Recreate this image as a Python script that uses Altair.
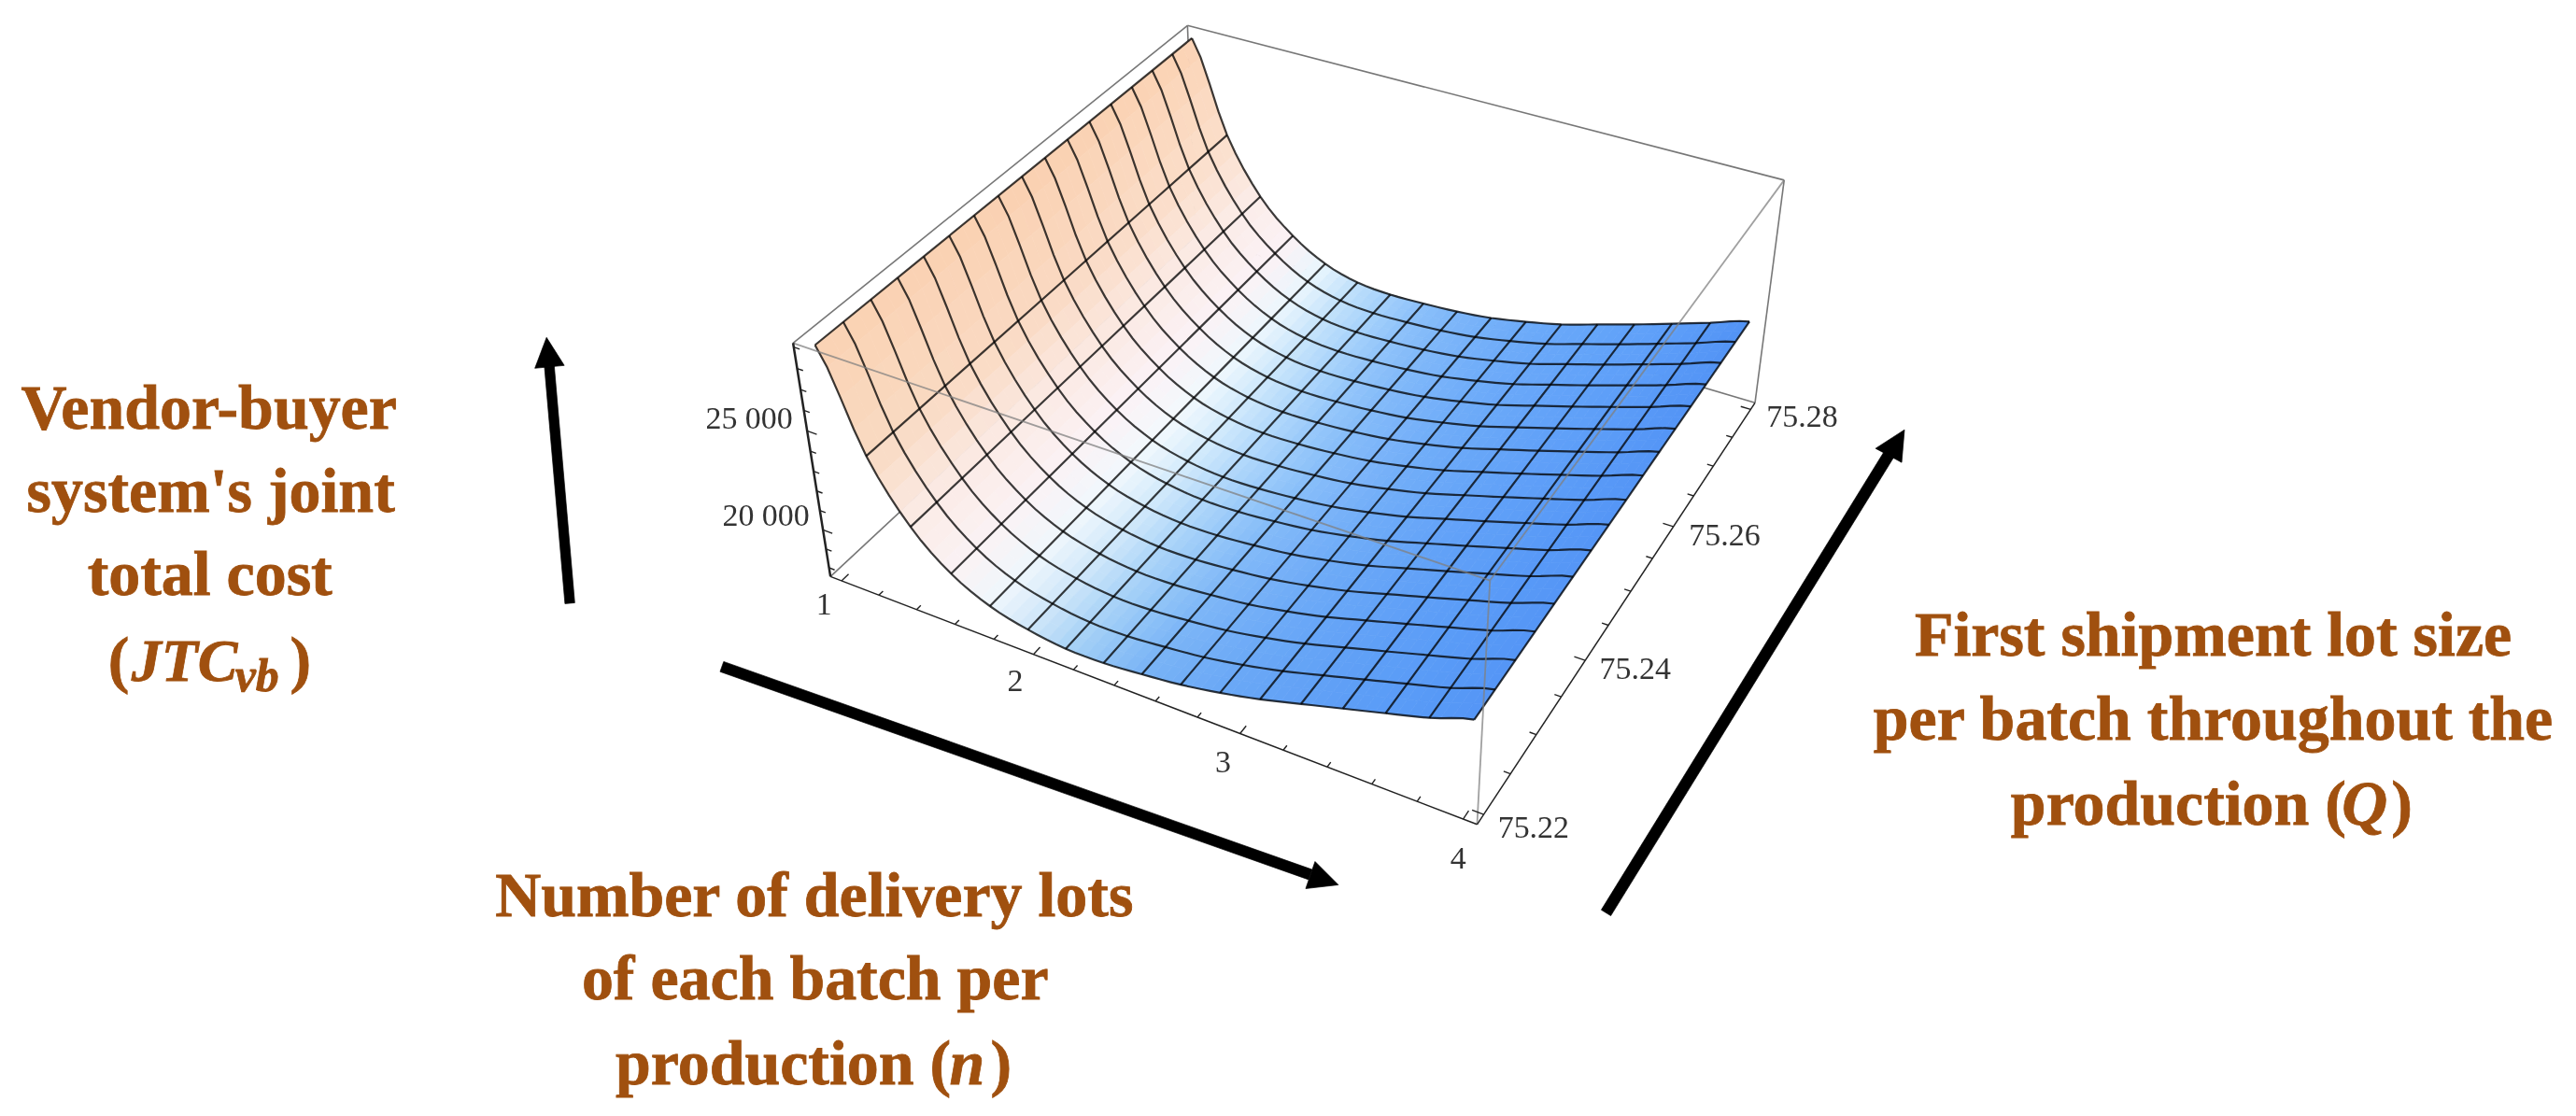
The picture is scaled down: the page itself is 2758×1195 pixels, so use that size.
import numpy as np
import altair as alt

# ---- values -----------------------------------------------------------------
N_MIN, N_MAX = 1.0, 4.0
Q_MIN, Q_MAX = 75.22, 75.28
MESH_CELLS = 16
# joint total cost at each mesh line of n, along the two edges Q=75.22 and Q=75.28
z_front = [28933, 24223, 21332, 19618, 18641, 18140, 17880, 17885, 18062, 18290, 18649, 19097, 19647, 20202, 20763, 21329, 22037]
z_back = [28932, 24242, 21348, 19665, 18608, 18088, 17949, 18000, 18110, 18317, 18674, 19097, 19671, 20247, 20859, 21487, 22121]
color_front = ["#FAD2B3","#F9DAC2","#FBECE8","#FAF2F4","#EEF6FC","#CFE6F9","#A9D3F6","#8EC2F6","#79B3F6","#71ADF6","#6AA8F6","#65A4F6","#61A1F6","#5D9EF6","#5A9CF7","#5799F6","#5596F6"]
color_mid = ["#FAD0B0","#FAD9C2","#FBEAE4","#FBF2F6","#F3F9FD","#D5ECFC","#B5DAFB","#9CCBFA","#88BEF9","#7DB5F9","#72AEF8","#6BA9F8","#65A4F8","#60A0F8","#5C9DF7","#5899F7","#5596F6"]
color_back = ["#FBD3B4","#FBDFCB","#FBEDEA","#FBF2F5","#E8F5FD","#BFE0FB","#A3D0FB","#8BC0FA","#7DB6F9","#74B0F9","#6DABF9","#68A7F9","#65A5F9","#61A2F9","#5E9FF9","#5899F7","#5293F5"]
z_tick_labels = ["25 000", "20 000"]
n_tick_labels = ["1", "2", "3", "4"]
q_tick_labels = ["75.22", "75.24", "75.26", "75.28"]

# ---- view box and camera ----------------------------------------------------
Z_LO, Z_HI = 17530.0, 29190.0
N_LO, N_HI = 0.94, 4.06
Q_LO, Q_HI = 75.2188, 75.2812
box3 = [(0,0,1),(0,1,1),(1,0,1),(1,1,1),(0,0,0),(1,0,0),(1,1,0)]
box2 = [(848,366),(1271,24),(1595,617),(1912,192),(889,615),(1582,883),(1879,428)]

A = []
for (X_,Y_,Z_),(x,y) in zip(box3,box2):
    x/=1000; y/=1000
    A.append([X_,Y_,Z_,1,0,0,0,0,-x*X_,-x*Y_,-x*Z_,-x])
    A.append([0,0,0,0,X_,Y_,Z_,1,-y*X_,-y*Y_,-y*Z_,-y])
P = np.linalg.svd(np.array(A,float))[2][-1].reshape(3,4)

def proj(n,Q,z):
    v = P@np.array([(n-N_LO)/(N_HI-N_LO),(Q-Q_LO)/(Q_HI-Q_LO),(z-Z_LO)/(Z_HI-Z_LO),1.0])
    return (float(v[0]/v[2]*1000), float(v[1]/v[2]*1000))

SUB = 4
def cr(vals,t):
    vals=np.asarray(vals,float); i=min(int(t),len(vals)-2); s=t-i
    p0=vals[max(i-1,0)];p1=vals[i];p2=vals[i+1];p3=vals[min(i+2,len(vals)-1)]
    return 0.5*((2*p1)+(-p0+p2)*s+(2*p0-5*p1+4*p2-p3)*s*s+(-p0+3*p1-3*p2+p3)*s**3)
def hexrgb(h): return np.array([int(h[i:i+2],16) for i in (1,3,5)],float)
rows=[[hexrgb(c) for c in r] for r in (color_front,color_mid,color_back)]
def col(t,f):
    i=min(int(t),MESH_CELLS-1); s=t-i
    g=f*2; k=min(int(g),1); r=g-k
    c=(rows[k][i]*(1-s)+rows[k][i+1]*s)*(1-r)+(rows[k+1][i]*(1-s)+rows[k+1][i+1]*s)*r
    return "#%02x%02x%02x"%tuple(int(round(v)) for v in c)
def surf(t,f):
    n=N_MIN+(N_MAX-N_MIN)*t/MESH_CELLS
    Q=Q_MIN+(Q_MAX-Q_MIN)*f
    z=cr(z_front,t)*(1-f)+cr(z_back,t)*f
    return proj(n,Q,z)

features=[]
def poly(pts,c):
    pts=[[float(a) for a in p] for p in pts]
    features.append({"type":"Feature","properties":{"c":c},"geometry":{"type":"Polygon","coordinates":[pts+[pts[0]]]}})
W,H=2742,1179
poly([(8,8),(2750,8),(2750,1187),(8,1187)],"transparent")
FS=2
for i4 in range(MESH_CELLS*SUB):
    for j in range(MESH_CELLS*FS):
        t0,t1=i4/SUB,(i4+1)/SUB
        f0,f1=j/(MESH_CELLS*FS),(j+1)/(MESH_CELLS*FS)
        poly([surf(t0,f0),surf(t1,f0),surf(t1,f1),surf(t0,f1)],col((t0+t1)/2,(f0+f1)/2))

def arrow(tail,base,tip,c1,c2,w):
    tail=np.array(tail,float);base=np.array(base,float)
    d=base-tail;d/=np.linalg.norm(d);o=np.array([-d[1],d[0]])*w/2
    poly([tail+o,base+o,base-o,tail-o],"#000000")
    poly([tip,c1,c2],"#000000")
arrow((609,644),(587,390),(584,359),(571.5,392),(603,389),10.5)
arrow((772,712),(1403,935),(1433,946),(1408,921),(1398,950),11.5)
arrow((1720,976),(2023,485),(2040,458),(2009,478),(2037,493),12)

geo=alt.Chart(alt.InlineData(values={"type":"FeatureCollection","features":features},format=alt.DataFormat(property="features",type="json"))).mark_geoshape(strokeWidth=0.7).encode(
    fill=alt.Fill("properties.c:N",scale=None,legend=None),
    stroke=alt.Stroke("properties.c:N",scale=None,legend=None)
).project(type="identity")

xs=alt.Scale(domain=[8,2750]);ys=alt.Scale(domain=[1187,8])
X=lambda f="x":alt.X(f+":Q",scale=xs,axis=None)
Y=lambda f="y":alt.Y(f+":Q",scale=ys,axis=None)
def lines(segs,**kw):
    rec=[]
    for k,s in enumerate(segs):
        for m,p in enumerate(s):
            rec.append({"id":k,"m":m,"x":p[0],"y":p[1]})
    return alt.Chart(alt.Data(values=rec)).mark_line(**kw).encode(x=X(),y=Y(),detail="id:N",order="m:Q")
c=proj
T00,T01,T10,T11=c(N_LO,Q_LO,Z_HI),c(N_LO,Q_HI,Z_HI),c(N_HI,Q_LO,Z_HI),c(N_HI,Q_HI,Z_HI)
B00,B01,B10,B11=c(N_LO,Q_LO,Z_LO),c(N_LO,Q_HI,Z_LO),c(N_HI,Q_LO,Z_LO),c(N_HI,Q_HI,Z_LO)
back=lines([[T00,T01],[T01,T11],[T11,B11],[B00,B01],[B01,B11],[B01,T01]],stroke="#777777",strokeWidth=1.6)
mesh=[]
for j in range(MESH_CELLS+1):
    mesh.append([surf(k/SUB,j/MESH_CELLS) for k in range(MESH_CELLS*SUB+1)])
for i in range(MESH_CELLS+1):
    mesh.append([surf(i,k/4) for k in range(5)])
meshl=lines(mesh,stroke="#3c3c3c",strokeWidth=2.2,blend="multiply")
front=lines([[T00,T10],[T10,T11],[T10,B10]],stroke="#808080",strokeWidth=1.8,opacity=0.75)
ticks=[]
for k in range(16):
    n=1+0.2*k; L=.001 if k%5==0 else .0006
    ticks.append([c(n,Q_LO,Z_LO),c(n,Q_LO+L,Z_LO)])
for k in range(13):
    Q=75.22+.005*k; L=.05 if k%4==0 else .03
    ticks.append([c(N_HI,Q,Z_LO),c(N_HI-L,Q,Z_LO)])
for k in range(12):
    z=18000+1000*k; L=.05 if z%5000==0 else .03
    ticks.append([c(N_LO,Q_LO,z),c(N_LO+L,Q_LO,z)])
tickl=lines(ticks,stroke="#222222",strokeWidth=1.4)
axes=lines([[B00,B10],[B10,B11]],stroke="#222222",strokeWidth=1.5)
axz=lines([[T00,B00]],stroke="#222222",strokeWidth=2.5)

def text(rows_,**kw):
    base=dict(font="Liberation Serif",baseline="alphabetic")
    base.update(kw)
    rec=[{"t":t,"x":x,"y":y} for t,x,y in rows_]
    return alt.Chart(alt.Data(values=rec)).mark_text(**base).encode(x=X(),y=Y(),text="t:N")
tk=text(list(zip(z_tick_labels+n_tick_labels,[848,866,890,1095,1318,1570],[457,561,656,738,825,928])),fontSize=34,color="#333333",align="right")
tk2=text(list(zip(q_tick_labels,[1604,1713,1809,1892],[895,725,582,455])),fontSize=34,color="#333333",align="left")
BR="#A0500F"
heavy=dict(fontWeight="bold",color=BR,stroke=BR,strokeWidth=0.8)
tc=text([("Vendor-buyer",222,457),("system's joint",224,546),("total cost",223,635),
         ("Number of delivery lots",871,980),("of each batch per",872,1069),
         ("First shipment lot size",2371,700),("per batch throughout the",2371,790)],align="center",fontSize=68,**heavy)
tl=text([("production (",658,1160),("production (",2154,881),("(",114,727),(")",1060,1160),(")",2562,881),(")",309,727)],align="left",fontSize=68,**heavy)
ti=text([("n",1016,1160),("Q",2509,881)],align="left",fontSize=68,fontStyle="italic",**heavy)
ti2=text([("JTC",139,727)],align="left",fontSize=64,fontStyle="italic",**heavy)
ti3=text([("vb",250,738)],align="left",fontSize=50,fontStyle="italic",**heavy)

chart=alt.layer(back,geo,meshl,front,tickl,axes,axz,tk,tk2,tc,tl,ti,ti2,ti3).properties(width=W,height=H,padding=0,background="white").configure_view(stroke=None)
chart.save("out.html",embed_options={"renderer":"svg","actions":False})
